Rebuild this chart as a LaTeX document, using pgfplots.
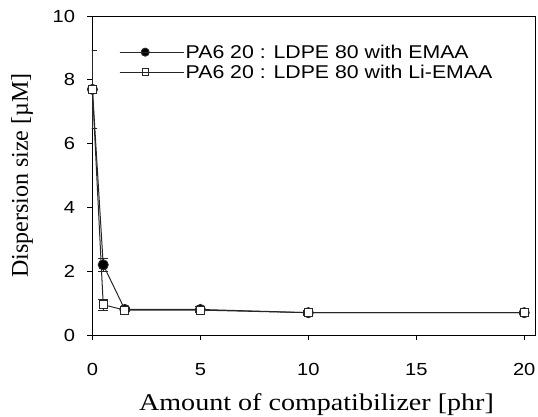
\documentclass[border=0pt]{standalone}
\usepackage{pgfplots}
\pgfplotsset{compat=1.18}
\usepackage{fontspec}
\setmainfont{Liberation Serif}
\setsansfont{Liberation Sans}
\newfontfamily\sfst[FakeStretch=1.15]{Liberation Sans}
\newfontfamily\rmst[FakeStretch=1.17]{Liberation Serif}
\begin{document}
\begin{tikzpicture}
\begin{axis}[
  scale only axis,
  width=443pt, height=319pt,
  xmin=-0.02, xmax=20.5, ymin=0, ymax=10,
  xtick={0,5,10,15,20}, ytick={0,2,4,6,8,10},
  tick align=outside, xtick pos=bottom, ytick pos=left,
  major tick length=5pt,
  /pgf/number format/assume math mode=true,
  ticklabel style={font=\fontsize{17.5}{20}\selectfont\sfst},
  xticklabel style={yshift=-20pt},
  yticklabel style={xshift=-8.5pt},
  xlabel={\rmst Amount of compatibilizer [phr]},
  ylabel={Dispersion size [\textmu M]},
  label style={font=\fontsize{24}{28}\selectfont\rmfamily},
  xlabel style={at={(axis description cs:0.5,0)}, anchor=base, yshift=-75.7pt, xshift=3pt},
  ylabel style={at={(axis description cs:0,0.5)}, anchor=center, yshift=70pt},
  axis line style={black, line width=0.8pt},
  tick style={black, line width=0.8pt},
  legend style={draw=none, fill=none, inner sep=0pt, at={(rel axis cs:0,1)}, anchor=north west,
    xshift=27pt, yshift=-27pt,
    font=\fontsize{18.5}{20}\selectfont\sfst, row sep=2pt,
    nodes={inner sep=1.5pt}},
  legend cell align=left,
  legend image code/.code={
    \draw[#1, mark repeat=2, mark phase=2, every mark/.append style={scale=0.8}] plot coordinates {(0pt,0pt) (25.5pt,0pt) (51pt,0pt)};
    \path (0pt,0pt) -- (64pt,0pt);},
]
\addplot[black!85, line width=1pt, mark=*, mark size=5pt, mark options={fill=black},
  error bars/.cd, y dir=both, y explicit, error bar style={line width=0.9pt}, error mark options={rotate=90, mark size=5pt, line width=0.9pt}]
  coordinates {
  (0,7.7) +- (0,1.22)
  (0.5,2.2) +- (0,0.2)
  (1.5,0.8) +- (0,0.05)
  (5,0.8) +- (0,0.08)
  (10,0.7) +- (0,0.08)
  (20,0.7) +- (0,0.05)
};
\addlegendentry{PA6 20 : LDPE 80 with EMAA}
\addplot[black!85, line width=1pt, mark=square*, mark size=4pt, mark options={fill=white},
  error bars/.cd, y dir=both, y explicit, error bar style={line width=0.9pt}, error mark options={rotate=90, mark size=5pt, line width=0.9pt}]
  coordinates {
  (0,7.7) +- (0,1.22)
  (0.5,0.95) +- (0,0.18)
  (1.5,0.78) +- (0,0.05)
  (5,0.78) +- (0,0.05)
  (10,0.7) +- (0,0.05)
  (20,0.7) +- (0,0.05)
};
\addlegendentry{PA6 20 : LDPE 80 with Li-EMAA}
\coordinate (sw) at (rel axis cs:0,0);
\coordinate (ne) at (rel axis cs:1,1);
\end{axis}
\pgfresetboundingbox
\path ([shift={(-92pt,-82pt)}]sw) rectangle ([shift={(3pt,16pt)}]ne);
\end{tikzpicture}
\end{document}
